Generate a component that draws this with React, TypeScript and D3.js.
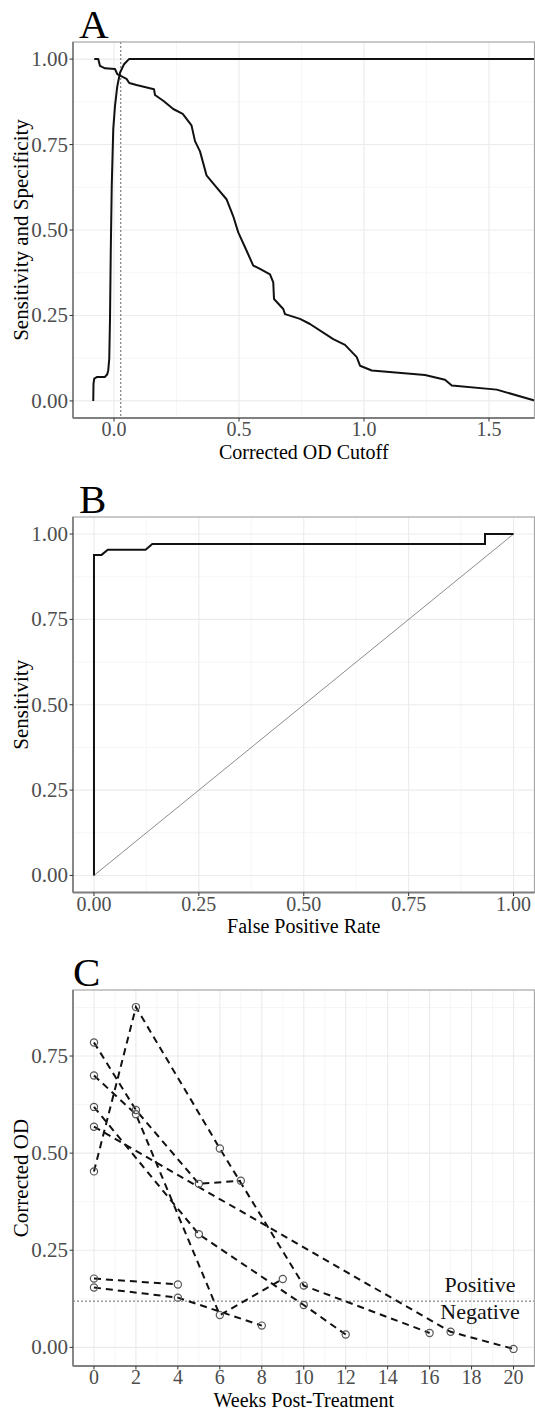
import React from 'react';
import * as d3 from 'd3';

// Panel A: sensitivity / specificity vs corrected OD cutoff
const specCutoff = [-0.083, -0.082, -0.079, -0.067, -0.036, -0.027, -0.023, -0.019, -0.016, -0.013, -0.009, -0.003, 0.004, 0.013, 0.024, 0.040, 0.060, 1.682];
const specValue = [0, 0.05, 0.065, 0.07, 0.07, 0.078, 0.09, 0.123, 0.24, 0.435, 0.63, 0.795, 0.863, 0.92, 0.96, 0.985, 1.0, 1.0];
const sensCutoff = [-0.079, -0.063, -0.056, -0.036, 0.004, 0.013, 0.050, 0.061, 0.090, 0.160, 0.164, 0.197, 0.237, 0.275, 0.310, 0.324, 0.344, 0.370, 0.410, 0.450, 0.477, 0.497, 0.530, 0.557, 0.584, 0.624, 0.637, 0.640, 0.677, 0.684, 0.744, 0.784, 0.877, 0.924, 0.971, 0.984, 1.031, 1.244, 1.324, 1.351, 1.531, 1.682];
const sensValue = [1.0, 1.0, 0.98, 0.973, 0.971, 0.956, 0.942, 0.93, 0.924, 0.912, 0.895, 0.878, 0.854, 0.84, 0.806, 0.76, 0.73, 0.66, 0.625, 0.59, 0.54, 0.493, 0.44, 0.396, 0.386, 0.37, 0.347, 0.298, 0.269, 0.254, 0.24, 0.225, 0.181, 0.164, 0.128, 0.103, 0.089, 0.076, 0.062, 0.045, 0.033, 0.001];
const chosenCutoff = 0.027;
const aTicksX = [0, 0.5, 1.0, 1.5];
const aMinorX = [0.25, 0.75, 1.25];
const unitTicks = [0, 0.25, 0.5, 0.75, 1.0];
const unitMinor = [0.125, 0.375, 0.625, 0.875];

// Panel B: ROC curve
const rocFpr = [0, 0, 0.018, 0.033, 0.123, 0.139, 0.932, 0.932, 1.0];
const rocTpr = [0, 0.939, 0.939, 0.954, 0.954, 0.971, 0.971, 1.0, 1.0];

// Panel C: corrected OD per patient over weeks post-treatment
const patientWeeks = [
  [0, 2, 5, 7],
  [0, 2, 6, 9],
  [0, 5, 10, 12],
  [0, 17, 20],
  [0, 2, 6, 10, 16],
  [0, 4],
  [0, 4, 8],
];
const patientOD = [
  [0.785, 0.611, 0.421, 0.429],
  [0.700, 0.600, 0.083, 0.176],
  [0.619, 0.291, 0.109, 0.033],
  [0.568, 0.040, -0.004],
  [0.453, 0.876, 0.512, 0.159, 0.037],
  [0.177, 0.162],
  [0.154, 0.128, 0.056],
];
const positiveCutoff = 0.119;
const cTicksX = [0, 2, 4, 6, 8, 10, 12, 14, 16, 18, 20];
const cMinorX = [1, 3, 5, 7, 9, 11, 13, 15, 17, 19];
const cTicksY = [0, 0.25, 0.5, 0.75];
const cMinorY = [0.125, 0.375, 0.625, 0.875];

const FONT = '"Liberation Serif", "Times New Roman", serif';
const LEFT = 73;
const RIGHT = 534.5;

type PanelProps = {
  x: d3.ScaleLinear<number, number>;
  y: d3.ScaleLinear<number, number>;
  xTicks: number[];
  xMinor: number[];
  yTicks: number[];
  yMinor: number[];
  xFmt: (v: number) => string;
  yFmt: (v: number) => string;
  xTitle: string;
  yTitle: string;
  letter: string;
  letterX: number;
  children?: React.ReactNode;
};

function Panel({ x, y, xTicks, xMinor, yTicks, yMinor, xFmt, yFmt, xTitle, yTitle, letter, letterX, children }: PanelProps) {
  const [x0, x1] = x.range();
  const [y0, y1] = y.range(); // y0 bottom, y1 top
  const cy = (y0 + y1) / 2;
  const cx = (x0 + x1) / 2;
  return (
    <g>
      <text x={letterX} y={y1 - 4} fontFamily={FONT} fontSize={41} fill="#000">{letter}</text>
      <rect x={x0} y={y1} width={x1 - x0} height={y0 - y1} fill="#fff" />
      {xMinor.map((v) => (
        <line key={'xm' + v} x1={x(v)} x2={x(v)} y1={y1} y2={y0} stroke="#f4f4f4" strokeWidth={0.8} />
      ))}
      {yMinor.map((v) => (
        <line key={'ym' + v} x1={x0} x2={x1} y1={y(v)} y2={y(v)} stroke="#f4f4f4" strokeWidth={0.8} />
      ))}
      {xTicks.map((v) => (
        <line key={'xg' + v} x1={x(v)} x2={x(v)} y1={y1} y2={y0} stroke="#ebebeb" strokeWidth={1.1} />
      ))}
      {yTicks.map((v) => (
        <line key={'yg' + v} x1={x0} x2={x1} y1={y(v)} y2={y(v)} stroke="#ebebeb" strokeWidth={1.1} />
      ))}
      {children}
      <rect x={x0} y={y1} width={x1 - x0} height={y0 - y1} fill="none" stroke="#a6a6a6" strokeWidth={1.2} />
      <line x1={x0} x2={x0} y1={y1} y2={y0} stroke="#808080" strokeWidth={1.8} />
      <line x1={x0} x2={x1} y1={y0} y2={y0} stroke="#808080" strokeWidth={1.8} />
      {yTicks.map((v) => (
        <g key={'yt' + v}>
          <line x1={x0 - 3.5} x2={x0} y1={y(v)} y2={y(v)} stroke="#333" strokeWidth={1} />
          <text x={x0 - 5} y={y(v) + 7} textAnchor="end" fontFamily={FONT} fontSize={21} fill="#4d4d4d">{yFmt(v)}</text>
        </g>
      ))}
      {xTicks.map((v) => (
        <g key={'xt' + v}>
          <line x1={x(v)} x2={x(v)} y1={y0} y2={y0 + 3.5} stroke="#333" strokeWidth={1} />
          <text x={x(v)} y={y0 + 18} textAnchor="middle" fontFamily={FONT} fontSize={20} fill="#4d4d4d">{xFmt(v)}</text>
        </g>
      ))}
      <text x={cx} y={y0 + 40.5} textAnchor="middle" fontFamily={FONT} fontSize={20} fill="#000">{xTitle}</text>
      <text transform={`translate(28,${cy}) rotate(-90)`} textAnchor="middle" fontFamily={FONT} fontSize={21} fill="#000">{yTitle}</text>
    </g>
  );
}

export default function App() {
  const xA = d3.scaleLinear().domain([-0.164, 1.682]).range([LEFT, RIGHT]);
  const yA = d3.scaleLinear().domain([-0.05, 1.05]).range([418, 42]);
  const xB = d3.scaleLinear().domain([-0.05, 1.05]).range([LEFT, RIGHT]);
  const yB = d3.scaleLinear().domain([-0.05, 1.05]).range([892.5, 517]);
  const xC = d3.scaleLinear().domain([-1, 21]).range([LEFT, RIGHT]);
  const yC = d3.scaleLinear().domain([-0.048, 0.92]).range([1366, 990]);

  const lineA = d3.line<[number, number]>().x((d) => xA(d[0])).y((d) => yA(d[1]));
  const lineB = d3.line<[number, number]>().x((d) => xB(d[0])).y((d) => yB(d[1]));
  const lineC = d3.line<[number, number]>().x((d) => xC(d[0])).y((d) => yC(d[1]));

  const specPts = specCutoff.map((c, i) => [c, specValue[i]] as [number, number]);
  const sensPts = sensCutoff.map((c, i) => [c, sensValue[i]] as [number, number]);
  const rocPts = rocFpr.map((f, i) => [f, rocTpr[i]] as [number, number]);

  const f2 = d3.format('.2f');
  const f1 = d3.format('.1f');

  return (
    <svg width={535} height={1409} style={{ position: 'absolute', left: 0, top: 0, display: 'block', background: '#fff' }}>
      <Panel x={xA} y={yA} xTicks={aTicksX} xMinor={aMinorX} yTicks={unitTicks} yMinor={unitMinor}
        xFmt={f1} yFmt={f2} xTitle="Corrected OD Cutoff" yTitle="Sensitivity and Specificity" letter="A" letterX={79}>
        <line x1={xA(chosenCutoff)} x2={xA(chosenCutoff)} y1={42} y2={418} stroke="#666" strokeWidth={1} strokeDasharray="2,2" />
        <path d={lineA(specPts) || ''} fill="none" stroke="#111" strokeWidth={2} strokeLinejoin="round" />
        <path d={lineA(sensPts) || ''} fill="none" stroke="#111" strokeWidth={2} strokeLinejoin="round" />
      </Panel>
      <Panel x={xB} y={yB} xTicks={unitTicks} xMinor={unitMinor} yTicks={unitTicks} yMinor={unitMinor}
        xFmt={f2} yFmt={f2} xTitle="False Positive Rate" yTitle="Sensitivity" letter="B" letterX={79}>
        <line x1={xB(0)} y1={yB(0)} x2={xB(1)} y2={yB(1)} stroke="#8c8c8c" strokeWidth={1} />
        <path d={lineB(rocPts) || ''} fill="none" stroke="#111" strokeWidth={2} />
      </Panel>
      <Panel x={xC} y={yC} xTicks={cTicksX} xMinor={cMinorX} yTicks={cTicksY} yMinor={cMinorY}
        xFmt={(v) => String(v)} yFmt={f2} xTitle="Weeks Post-Treatment" yTitle="Corrected OD" letter="C" letterX={73}>
        <line x1={LEFT} x2={RIGHT} y1={yC(positiveCutoff)} y2={yC(positiveCutoff)} stroke="#666" strokeWidth={1} strokeDasharray="2,2" />
        {patientWeeks.map((wks, i) => (
          <path key={'p' + i} d={lineC(wks.map((w, j) => [w, patientOD[i][j]] as [number, number])) || ''}
            fill="none" stroke="#111" strokeWidth={2} strokeDasharray="7,5" />
        ))}
        {patientWeeks.map((wks, i) =>
          wks.map((w, j) => (
            <circle key={'c' + i + '-' + j} cx={xC(w)} cy={yC(patientOD[i][j])} r={3.6} fill="none" stroke="#555" strokeWidth={1.2} />
          ))
        )}
        <text x={xC(18.4)} y={yC(positiveCutoff) - 9} textAnchor="middle" fontFamily={FONT} fontSize={22} fill="#111">Positive</text>
        <text x={xC(18.4)} y={yC(positiveCutoff) + 18} textAnchor="middle" fontFamily={FONT} fontSize={22} fill="#111">Negative</text>
      </Panel>
    </svg>
  );
}
